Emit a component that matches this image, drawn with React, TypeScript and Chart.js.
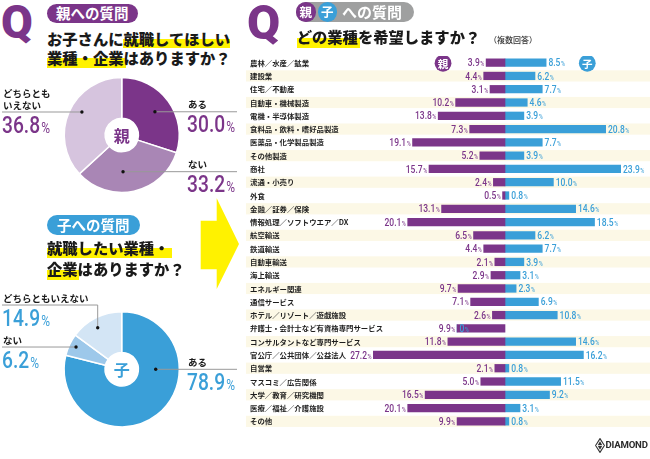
import React, { useEffect, useRef } from "react";
import { Chart, registerables } from "chart.js";
Chart.register(...registerables);

const PURPLE = "#7b3589";
const BLUE = "#3a9fd8";
const STRIPE = "#fcf8e6";
const JP = '"Noto Sans CJK JP", "Noto Sans", sans-serif';

// ---- Pie data ----
const answerLabels = ["ある", "ない", "どちらともいえない"];
const parentAnswerValues = [30.0, 33.2, 36.8];
const childAnswerValues = [78.9, 6.2, 14.9];
const parentPieColors = ["#7b3589", "#a986b5", "#d6c4de"];
const childPieColors = ["#3a9fd8", "#9dc8ea", "#d3e5f5"];

// ---- Bar data ----
const industries = [
  "農林／水産／鉱業",
  "建設業",
  "住宅／不動産",
  "自動車・機械製造",
  "電機・半導体製造",
  "食料品・飲料・嗜好品製造",
  "医薬品・化学製品製造",
  "その他製造",
  "商社",
  "流通・小売り",
  "外食",
  "金融／証券／保険",
  "情報処理／ソフトウエア／DX",
  "航空輸送",
  "鉄道輸送",
  "自動車輸送",
  "海上輸送",
  "エネルギー関連",
  "通信サービス",
  "ホテル／リゾート／遊戯施設",
  "弁護士・会計士など有資格専門サービス",
  "コンサルタントなど専門サービス",
  "官公庁／公共団体／公益法人",
  "自営業",
  "マスコミ／広告関係",
  "大学／教育／研究機関",
  "医療／福祉／介護施設",
  "その他",
];
const parentValues = [3.9, 4.4, 3.1, 10.2, 13.8, 7.3, 19.1, 5.2, 15.7, 2.4, 0.5, 13.1, 20.1, 6.5, 4.4, 2.1, 2.9, 9.7, 7.1, 2.6, 9.9, 11.8, 27.2, 2.1, 5.0, 16.5, 20.1, 9.9];
const childValues = [8.5, 6.2, 7.7, 4.6, 3.9, 20.8, 7.7, 3.9, 23.9, 10.0, 0.8, 14.6, 18.5, 6.2, 7.7, 3.9, 3.1, 2.3, 6.9, 10.8, 0, 14.6, 16.2, 0.8, 11.5, 9.2, 3.1, 0.8];

const fmt = (v: number) => (v === 0 ? "0" : v.toFixed(1));

function drawPct(
  ctx: CanvasRenderingContext2D,
  x: number,
  y: number,
  num: string,
  size: number,
  pctSize: number,
  color: string,
  align: "left" | "right",
  sx: number,
  weight = 500
) {
  ctx.save();
  ctx.fillStyle = color;
  ctx.textBaseline = "alphabetic";
  ctx.textAlign = "left";
  const f1 = `${weight} ${size}px Roboto, "Open Sans", sans-serif`;
  const f2 = `400 ${pctSize}px Roboto, "Open Sans", sans-serif`;
  ctx.font = f1;
  const w1 = ctx.measureText(num).width;
  ctx.font = f2;
  const w2 = ctx.measureText("%").width;
  const gap = size * 0.06;
  const total = (w1 + gap + w2) * sx;
  const x0 = align === "right" ? x - total : x;
  ctx.translate(x0, y);
  ctx.scale(sx, 1);
  ctx.font = f1;
  ctx.fillText(num, 0, 0);
  ctx.font = f2;
  ctx.fillText("%", w1 + gap, 0);
  ctx.restore();
}

type Note = { lines: string[]; side: "left" | "right"; angle: number; r: number; elbow?: number };

const parentNotes: Note[] = [
  { lines: ["ある"], side: "right", angle: 55, r: 40.5 },
  { lines: ["ない"], side: "right", angle: 178, r: 36.7 },
  { lines: ["どちらとも", "いえない"], side: "left", angle: 300, r: 46 },
];
const childNotes: Note[] = [
  { lines: ["ある"], side: "right", angle: 90, r: 34 },
  { lines: ["ない"], side: "left", angle: 296, r: 50.8 },
  { lines: ["どちらともいえない"], side: "left", angle: 330, r: 48, elbow: -22.7 },
];

function makePiePlugin(values: number[], notes: Note[], color: string, centerChar: string) {
  return {
    id: "pieNotes",
    afterDraw(chart: any) {
      const ctx: CanvasRenderingContext2D = chart.ctx;
      const arc = chart.getDatasetMeta(0).data[0];
      const cx = arc.x;
      const cy = arc.y;
      const W = chart.width;
      ctx.save();
      ctx.fillStyle = color;
      ctx.font = `700 16px ${JP}`;
      ctx.textAlign = "center";
      ctx.textBaseline = "middle";
      ctx.fillText(centerChar, cx, cy + 0.5);
      notes.forEach((n, i) => {
        const a = (n.angle * Math.PI) / 180;
        const dx = cx + Math.sin(a) * n.r;
        const dy = cy - Math.cos(a) * n.r;
        const ly = dy + (n.elbow || 0);
        ctx.strokeStyle = "#999";
        ctx.lineWidth = 1;
        ctx.beginPath();
        if (n.side === "right") {
          ctx.moveTo(dx, ly);
          ctx.lineTo(W - 3, ly);
        } else {
          ctx.moveTo(2, ly);
          ctx.lineTo(dx, ly);
          if (n.elbow) ctx.lineTo(dx, dy);
        }
        ctx.stroke();
        ctx.fillStyle = "#111";
        ctx.beginPath();
        ctx.arc(dx, dy, 1.7, 0, Math.PI * 2);
        ctx.fill();
        const tx = n.side === "right" ? cx + 66.3 : 3;
        ctx.fillStyle = "#1a1a1a";
        ctx.font = `700 9.5px ${JP}`;
        ctx.textAlign = "left";
        ctx.textBaseline = "alphabetic";
        const nl = n.lines.length;
        n.lines.forEach((t, k) => {
          ctx.fillText(t, tx, ly - 3.5 - (nl - 1 - k) * 11.5);
        });
        drawPct(ctx, tx - 1, ly + 20.5, fmt(values[i]), 24, 15, color, "left", 0.8, 500);
      });
      ctx.restore();
    },
  };
}

const barPlugin = {
  id: "barNotes",
  beforeDatasetsDraw(chart: any) {
    const ctx: CanvasRenderingContext2D = chart.ctx;
    const { chartArea, scales } = chart;
    const y = scales.y;
    ctx.save();
    industries.forEach((name, i) => {
      const yc = y.getPixelForValue(i);
      if (i % 2 === 1) {
        ctx.fillStyle = STRIPE;
        ctx.fillRect(chartArea.left, yc - 5.6, chartArea.right - chartArea.left, 11.2);
      }
      ctx.fillStyle = "#1e1e1e";
      ctx.font = `700 7.4px ${JP}`;
      ctx.textBaseline = "middle";
      ctx.textAlign = "left";
      ctx.fillText(name, chartArea.left + 4, yc + 0.3);
    });
    ctx.restore();
  },
  afterDatasetsDraw(chart: any) {
    const ctx: CanvasRenderingContext2D = chart.ctx;
    const m0 = chart.getDatasetMeta(0).data;
    const m1 = chart.getDatasetMeta(1).data;
    ctx.save();
    m0.forEach((bar: any, i: number) => {
      drawPct(ctx, bar.x - 1.8, bar.y + 3.6, fmt(parentValues[i]), 10, 6.5, PURPLE, "right", 0.85, 500);
    });
    m1.forEach((bar: any, i: number) => {
      drawPct(ctx, bar.x + 2.3, bar.y + 3.6, fmt(childValues[i]), 10, 6.5, BLUE, "left", 0.85, 500);
    });
    const xs = chart.scales.x;
    const y0 = m0[0].y + 0.6;
    const badges: [number, string, string][] = [
      [-12.8, PURPLE, "親"],
      [17.0, BLUE, "子"],
    ];
    badges.forEach(([v, c, t]) => {
      const bx = xs.getPixelForValue(v);
      ctx.fillStyle = c;
      ctx.beginPath();
      ctx.arc(bx, y0, 8.4, 0, Math.PI * 2);
      ctx.fill();
      ctx.fillStyle = "#fff";
      ctx.font = `700 10.5px ${JP}`;
      ctx.textAlign = "center";
      ctx.textBaseline = "middle";
      ctx.fillText(t, bx, y0 + 0.5);
    });
    ctx.restore();
  },
};

function PieChart({ values, colors, notes, color, centerChar, padding }: any) {
  const ref = useRef<HTMLCanvasElement>(null);
  useEffect(() => {
    if (!ref.current) return;
    const chart = new Chart(ref.current, {
      type: "doughnut",
      data: {
        labels: answerLabels,
        datasets: [
          {
            data: values,
            backgroundColor: colors,
            borderColor: "#ffffff",
            borderWidth: 1.5,
          },
        ],
      },
      options: {
        responsive: true,
        maintainAspectRatio: false,
        animation: false,
        cutout: "29%",
        plugins: { legend: { display: false }, tooltip: { enabled: false } },
        layout: { padding },
      },
      plugins: [makePiePlugin(values, notes, color, centerChar)],
    } as any);
    return () => chart.destroy();
  }, []);
  return <canvas ref={ref} />;
}

function BarChart() {
  const ref = useRef<HTMLCanvasElement>(null);
  useEffect(() => {
    if (!ref.current) return;
    const chart = new Chart(ref.current, {
      type: "bar",
      data: {
        labels: industries,
        datasets: [
          { label: "親", data: parentValues.map((v) => -v), backgroundColor: PURPLE, barThickness: 7.6, stack: "s" },
          { label: "子", data: childValues, backgroundColor: BLUE, barThickness: 7.6, stack: "s" },
        ],
      },
      options: {
        indexAxis: "y",
        responsive: true,
        maintainAspectRatio: false,
        animation: false,
        layout: { padding: 0 },
        plugins: { legend: { display: false }, tooltip: { enabled: false } },
        scales: {
          x: { type: "linear", min: -53.51, max: 29.96, stacked: true, display: false },
          y: { stacked: true, display: false, offset: true },
        },
      },
      plugins: [barPlugin],
    } as any);
    return () => chart.destroy();
  }, []);
  return <canvas ref={ref} />;
}

const abs = (l: number, t: number, extra: React.CSSProperties = {}): React.CSSProperties => ({
  position: "absolute",
  left: l,
  top: t,
  ...extra,
});

const titleStyle: React.CSSProperties = {
  fontFamily: JP,
  fontWeight: 900,
  fontSize: 15.3,
  lineHeight: "15.3px",
  color: "#1a1a1a",
  whiteSpace: "nowrap",
};

const pill = (l: number, t: number, w: number, h: number, bg: string): React.CSSProperties =>
  abs(l, t, {
    width: w,
    height: h,
    borderRadius: h / 2,
    background: bg,
    color: "#fff",
    fontFamily: JP,
    fontWeight: 700,
    fontSize: 14.5,
    display: "flex",
    alignItems: "center",
    justifyContent: "center",
    lineHeight: 1,
  });

const YELLOW = "#fff200";

export default function App() {
  return (
    <div style={{ position: "absolute", left: 0, top: 0, width: 650, height: 459, background: "#fff", overflow: "hidden" }}>
      {/* Left Q */}
      <div style={abs(1, -1, { fontFamily: "Roboto", fontWeight: 900, fontSize: 46, lineHeight: 1, color: PURPLE })}>Q</div>
      <div style={pill(46.7, 4, 91.3, 19, PURPLE)}>親への質問</div>
      <div style={abs(123, 39, { width: 107, height: 9, background: YELLOW })} />
      <div style={abs(47, 58, { width: 79, height: 10, background: YELLOW })} />
      <div style={{ ...abs(47, 30.5), ...titleStyle }}>お子さんに就職してほしい</div>
      <div style={{ ...abs(47, 49.7), ...titleStyle }}>業種・企業はありますか？</div>

      <div style={abs(0, 70, { width: 240, height: 140 })}>
        <PieChart
          values={parentAnswerValues}
          colors={parentPieColors}
          notes={parentNotes}
          color={PURPLE}
          centerChar="親"
          padding={{ left: 63.5, right: 60, top: 6.75, bottom: 16.75 }}
        />
      </div>

      {/* Arrow */}
      <svg style={abs(0, 0)} width={650} height={459} pointerEvents="none">
        <polygon points="200.7,220.7 216.7,220.7 216.7,198.3 239,244 216.7,289 216.7,269.3 200.7,269.3" fill={YELLOW} />
      </svg>

      <div style={pill(46.7, 215, 93, 20, BLUE)}>子への質問</div>
      <div style={abs(47, 248, { width: 125, height: 10, background: YELLOW })} />
      <div style={abs(47, 270, { width: 32, height: 10, background: YELLOW })} />
      <div style={{ ...abs(47, 239.5), ...titleStyle }}>就職したい業種・</div>
      <div style={{ ...abs(47, 261), ...titleStyle }}>企業はありますか？</div>

      <div style={abs(0, 285, { width: 240, height: 150 })}>
        <PieChart
          values={childAnswerValues}
          colors={childPieColors}
          notes={childNotes}
          color={BLUE}
          centerChar="子"
          padding={{ left: 63.35, right: 59.95, top: 25.95, bottom: 7.35 }}
        />
      </div>

      {/* Right header */}
      <div style={abs(247, -1, { fontFamily: "Roboto", fontWeight: 900, fontSize: 48, lineHeight: 1, color: PURPLE })}>Q</div>
      <div style={abs(296, 2, { width: 118, height: 19.5, borderRadius: 10, background: "#9fa0a0" })} />
      <div style={{ ...pill(296, 2, 19.5, 19.5, PURPLE), fontSize: 12.5 }}>親</div>
      <div style={{ ...pill(317.5, 2, 19.5, 19.5, BLUE), fontSize: 12.5 }}>子</div>
      <div style={abs(342, 4, { color: "#fff", fontFamily: JP, fontWeight: 700, fontSize: 15, lineHeight: "15px", whiteSpace: "nowrap" })}>への質問</div>
      <div style={abs(297, 37.5, { width: 63, height: 10, background: YELLOW })} />
      <div style={{ ...abs(296.7, 29.2), ...titleStyle }}>どの業種を希望しますか？</div>
      <div style={abs(489, 36, { fontFamily: JP, fontWeight: 500, fontSize: 8, lineHeight: "8px", color: "#333", whiteSpace: "nowrap" })}>（複数回答）</div>

      <div style={abs(246, 55.7, { width: 404, height: 372 })}>
        <BarChart />
      </div>

      {/* Logo */}
      <svg style={abs(595, 437.5)} width={10} height={15} viewBox="0 0 10 15">
        <path d="M5 0.6 L9.4 7.5 L5 14.4 L0.6 7.5Z" fill="none" stroke="#333" strokeWidth={1.1} />
        <path d="M5 3.2 L7.4 7.5 L5 11.8 L2.6 7.5Z" fill="#333" />
        <line x1={1.5} y1={7.5} x2={8.5} y2={7.5} stroke="#fff" strokeWidth={0.8} />
      </svg>
      <div style={abs(605.5, 440, { fontFamily: "Roboto", fontWeight: 700, fontSize: 9.6, lineHeight: "10px", color: "#2b2b2b", letterSpacing: -0.2 })}>DIAMOND</div>
    </div>
  );
}
